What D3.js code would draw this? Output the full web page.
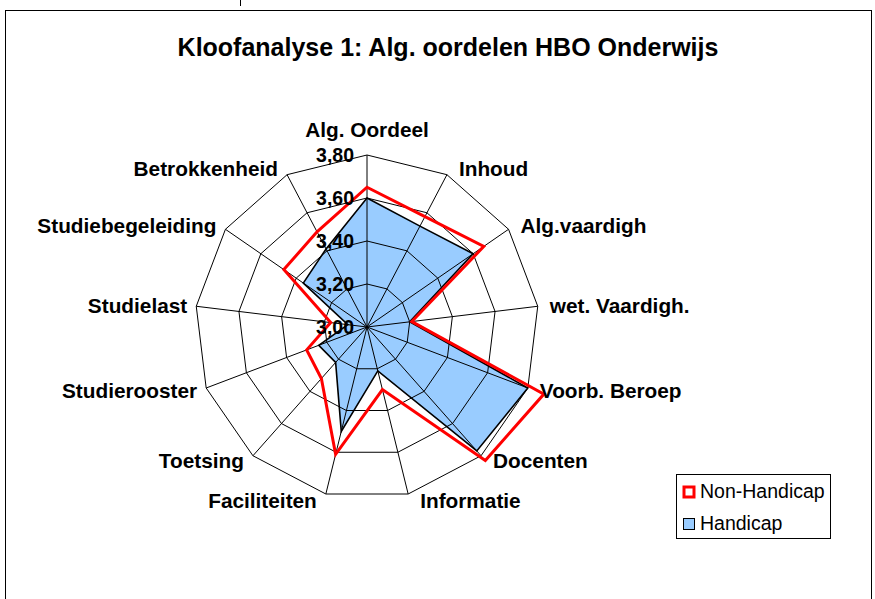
<!DOCTYPE html>
<html>
<head>
<meta charset="utf-8">
<script src="https://cdn.jsdelivr.net/npm/d3@7"></script>
<style>
  html, body { margin: 0; padding: 0; background: #fff; }
  svg { display: block; font-family: "Liberation Sans", Arial, sans-serif; }
</style>
</head>
<body>
<svg id="chart" width="875" height="599"></svg>
<script>
const title = "Kloofanalyse 1: Alg. oordelen HBO Onderwijs";
const categories = ["Alg. Oordeel", "Inhoud", "Alg.vaardigh", "wet. Vaardigh.", "Voorb. Beroep",
  "Docenten", "Informatie", "Faciliteiten", "Toetsing", "Studierooster", "Studielast",
  "Studiebegeleiding", "Betrokkenheid"];
const nonHandicap = [3.65, 3.58, 3.66, 3.21, 3.88, 3.83, 3.30, 3.61, 3.32, 3.30, 3.17, 3.47, 3.50];
const handicap    = [3.60, 3.53, 3.60, 3.20, 3.80, 3.77, 3.21, 3.50, 3.22, 3.24, 3.09, 3.36, 3.41];
const tickValues = [3.00, 3.20, 3.40, 3.60, 3.80];
const tickLabels = ["3,00", "3,20", "3,40", "3,60", "3,80"];
const seriesNames = ["Non-Handicap", "Handicap"];

const svg = d3.select("#chart");
const cx = 367, cy = 327, R = 172;
const n = categories.length;

const r = d3.scaleLinear().domain([3.0, 3.8]).range([0, R]);
const angle = d3.scaleLinear().domain([0, n]).range([0, 2 * Math.PI]);
const pt = (i, v) => [cx + r(v) * Math.sin(angle(i)), cy - r(v) * Math.cos(angle(i))];

// chart frame
svg.append("rect").attr("x", 5.5).attr("y", 10.5).attr("width", 866).attr("height", 620)
  .attr("fill", "#fff").attr("stroke", "#000").attr("stroke-width", 1);
svg.append("line").attr("x1", 240.5).attr("x2", 240.5).attr("y1", 0).attr("y2", 6)
  .attr("stroke", "#000").attr("stroke-width", 1);

// title
svg.append("text").attr("x", 448).attr("y", 56).attr("text-anchor", "middle")
  .attr("font-size", 25).attr("font-weight", "bold").text(title);

const line = d3.line().curve(d3.curveLinearClosed);

// Handicap filled area
svg.append("path")
  .attr("d", line(handicap.map((v, i) => pt(i, v))))
  .attr("fill", "#99CCFF").attr("stroke", "#000").attr("stroke-width", 1.6)
  .attr("stroke-linejoin", "miter");

// grid rings
const grid = svg.append("g").attr("stroke", "#000").attr("stroke-width", 1).attr("fill", "none");
tickValues.filter(t => t > 3.0).forEach(t => {
  grid.append("path").attr("d", line(d3.range(n).map(i => pt(i, t))));
});
// spokes
d3.range(n).forEach(i => {
  const [x, y] = pt(i, 3.8);
  grid.append("line").attr("x1", cx).attr("y1", cy).attr("x2", x).attr("y2", y);
});

// Non-Handicap line
svg.append("path")
  .attr("d", line(nonHandicap.map((v, i) => pt(i, v))))
  .attr("fill", "none").attr("stroke", "#FF0000").attr("stroke-width", 3)
  .attr("stroke-linejoin", "miter");

// tick labels
svg.append("g").selectAll("text").data(tickValues).join("text")
  .attr("x", 354).attr("y", d => cy - r(d))
  .attr("dy", "0.35em").attr("text-anchor", "end")
  .attr("font-size", 19.5).attr("font-weight", "bold")
  .text((d, i) => tickLabels[i]);

// category labels
svg.append("g").selectAll("text").data(categories).join("text")
  .each(function (d, i) {
    const a = angle(i);
    const [vx, vy] = pt(i, 3.8);
    const s = Math.sin(a), c = Math.cos(a);
    let x, y, anchor;
    if (Math.abs(s) < 0.01) { x = vx; y = vy - 25; anchor = "middle"; }
    else if (s > 0) { x = vx + 12; y = vy - 7 * c; anchor = "start"; }
    else { x = vx - 9; y = vy - 7 * c; anchor = "end"; }
    d3.select(this).attr("x", x).attr("y", y).attr("dy", "0.35em")
      .attr("text-anchor", anchor).attr("font-size", 20.8).attr("font-weight", "bold").text(d);
  });

// legend
const lg = svg.append("g");
lg.append("rect").attr("x", 676.5).attr("y", 474.5).attr("width", 154).attr("height", 64)
  .attr("fill", "#fff").attr("stroke", "#000").attr("stroke-width", 1);
lg.append("rect").attr("x", 684).attr("y", 487).attr("width", 10).attr("height", 10)
  .attr("fill", "#fff").attr("stroke", "#FF0000").attr("stroke-width", 3);
lg.append("rect").attr("x", 683.5).attr("y", 518.5).attr("width", 11).attr("height", 11)
  .attr("fill", "#99CCFF").attr("stroke", "#000").attr("stroke-width", 1);
lg.append("text").attr("x", 700).attr("y", 498).attr("font-size", 19.5).text(seriesNames[0]);
lg.append("text").attr("x", 700).attr("y", 529.5).attr("font-size", 19.5).text(seriesNames[1]);
</script>
</body>
</html>
